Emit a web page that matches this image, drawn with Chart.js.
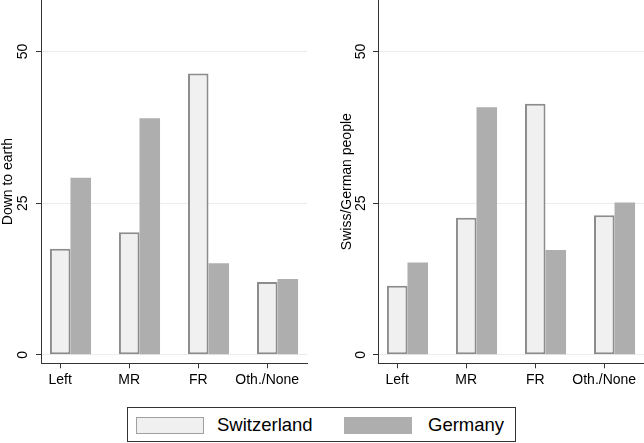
<!DOCTYPE html>
<html>
<head>
<meta charset="utf-8">
<script src="https://cdn.jsdelivr.net/npm/chart.js@4.4.1/dist/chart.umd.min.js"></script>
<style>
  body { margin: 0; background: #fff; font-family: "Liberation Sans", Arial, sans-serif; }
  #wrap { position: relative; width: 644px; height: 443px; overflow: hidden; }
  .panel { position: absolute; top: 0; width: 322px; height: 395px; }
  #legend { position: absolute; left: 127px; top: 407px; width: 387px; height: 33px; border: 1px solid #333; }
  .sw { position: absolute; top: 9px; width: 66px; height: 15px; }
  .lt { position: absolute; top: 6px; font-size: 18.5px; line-height: 21px; color: #000; }
</style>
</head>
<body>
<div id="wrap">
  <div class="panel" style="left:0"><canvas id="earth"></canvas></div>
  <div class="panel" style="left:322px"><canvas id="people"></canvas></div>
  <div id="legend">
    <div class="sw" style="left:8px; background:#f0f0f0; border:1px solid #a0a0a0;"></div>
    <div class="lt" style="left:89px">Switzerland</div>
    <div class="sw" style="left:216px; background:#aeaeae; border:1px solid #aeaeae;"></div>
    <div class="lt" style="left:300px">Germany</div>
  </div>
</div>
<script>
const categories = ["Left", "MR", "FR", "Oth./None"];
const yTicks = [0, 25, 50];

// Down to earth
const earthSwiss = [17.5, 20.2, 46.4, 12.0];
const earthGerman = [29.2, 39.0, 15.1, 12.5];

// Swiss/German people
const peopleSwiss = [11.4, 22.6, 41.4, 23.0];
const peopleGerman = [15.2, 40.8, 17.3, 25.1];

Chart.defaults.font.family = '"Liberation Sans", Arial, sans-serif';
Chart.defaults.font.size = 14;
Chart.defaults.color = '#000';

function points(vals) {
  return vals.map((v, i) => ({ x: i + 1, y: v }));
}

function makePanel(id, title, swiss, german, axisW, titlePad, tickPad, rightPad) {
  new Chart(document.getElementById(id), {
    type: 'bar',
    data: {
      datasets: [{
        label: 'Switzerland',
        data: points(swiss),
        backgroundColor: '#f0f0f0',
        borderColor: '#8c8c8c',
        borderWidth: 2,
        borderSkipped: false
      }, {
        label: 'Germany',
        data: points(german),
        backgroundColor: '#aeaeae',
        borderWidth: 0
      }]
    },
    options: {
      responsive: true,
      maintainAspectRatio: false,
      animation: false,
      categoryPercentage: 0.595,
      barPercentage: 1.0,
      layout: { autoPadding: false, padding: { left: 0, right: rightPad, top: 0, bottom: 0 } },
      plugins: { legend: { display: false }, tooltip: { enabled: false } },
      scales: {
        x: {
          type: 'linear',
          offset: false,
          min: 0.573,
          max: 4.427,
          afterBuildTicks: s => { s.ticks = categories.map((c, i) => ({ value: i + 1 - 0.149 })); },
          afterFit: s => { s.height = 31.7; s.paddingLeft = 0; s.paddingRight = 0; },
          ticks: { callback: (v, i) => categories[i], padding: 3, maxRotation: 0, autoSkip: false },
          grid: { offset: false, drawOnChartArea: false, drawTicks: true, tickLength: 5, color: '#333', tickColor: '#333' },
          border: { display: true, color: '#333', width: 1 }
        },
        y: {
          min: -1.4,
          max: 58.5,
          afterBuildTicks: s => { s.ticks = yTicks.map(v => ({ value: v })); },
          afterFit: s => { s.width = axisW; s.paddingTop = 0; s.paddingBottom = 0; },
          ticks: { minRotation: 90, maxRotation: 90, crossAlign: 'center', padding: tickPad },
          title: { display: true, text: title, padding: { top: titlePad, bottom: 0 }, font: { size: 14 } },
          grid: { color: '#ececec', tickColor: '#333', tickLength: 5 },
          border: { display: true, color: '#333', width: 1 }
        }
      }
    }
  });
}

makePanel('earth', 'Down to earth', earthSwiss, earthGerman, 41, 0, 5, 15);
makePanel('people', 'Swiss/German people', peopleSwiss, peopleGerman, 56, 16.6, 3.7, 0);
</script>
</body>
</html>
